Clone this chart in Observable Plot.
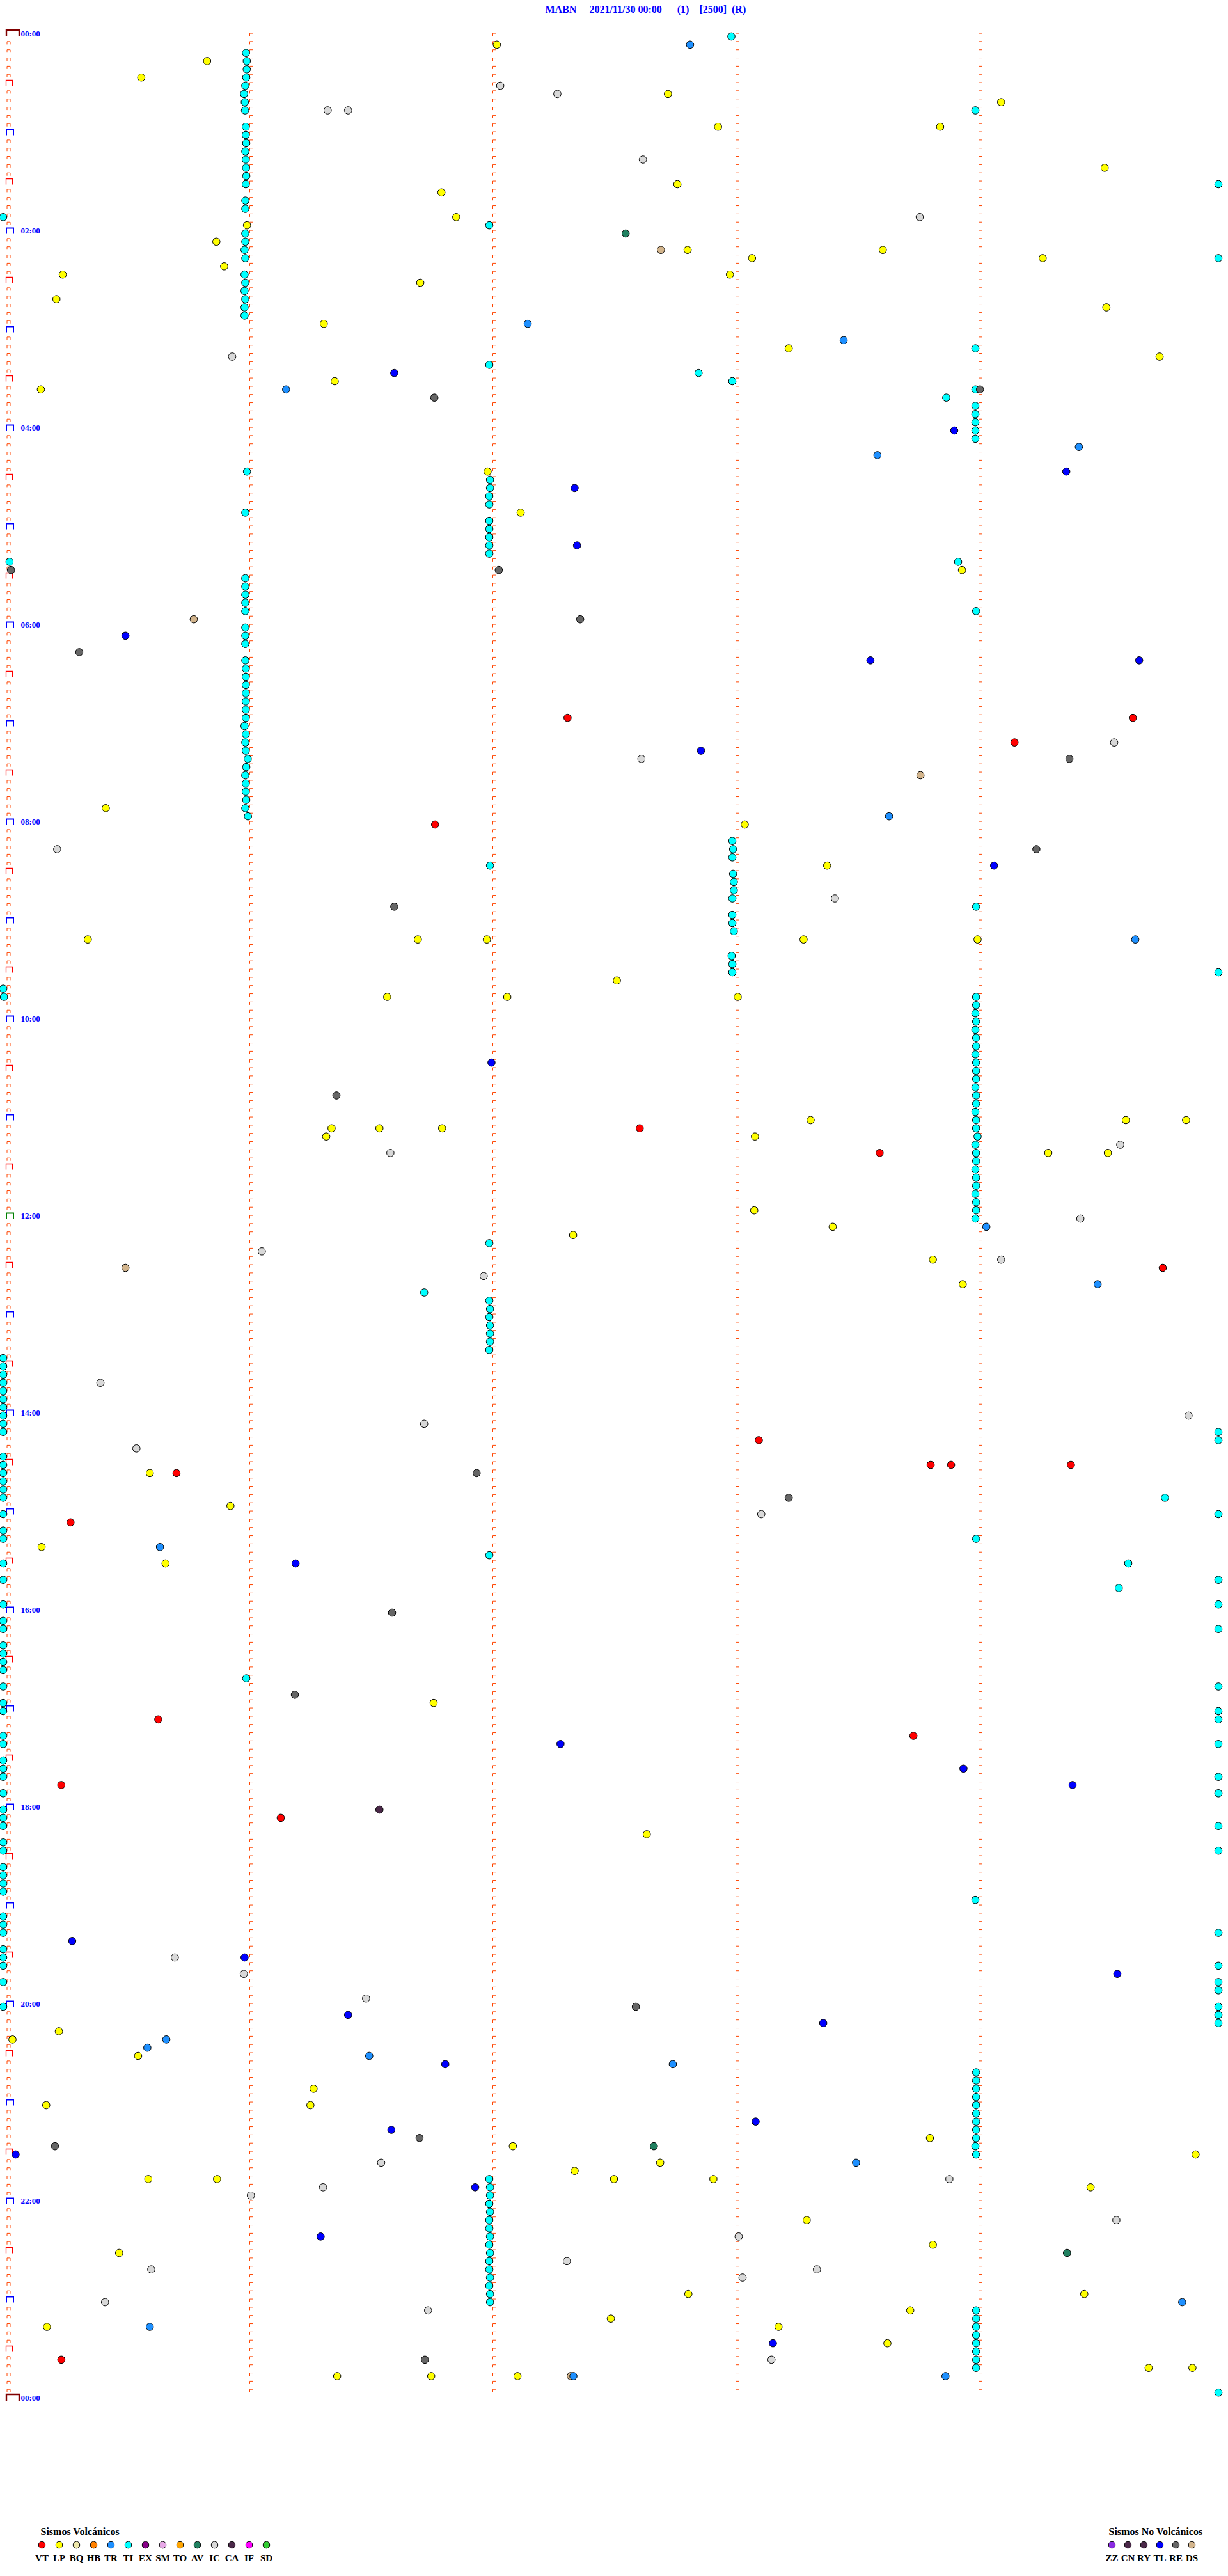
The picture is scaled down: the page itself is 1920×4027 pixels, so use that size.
<!DOCTYPE html>
<html><head><meta charset="utf-8">
<script src="https://cdn.jsdelivr.net/npm/d3@7"></script>
<script src="https://cdn.jsdelivr.net/npm/@observablehq/plot@0.6"></script>
<style>
body{margin:0;background:#fff;}
#wrap{position:relative;width:1920px;height:4027px;overflow:hidden;background:#fff;}
#chart{position:absolute;left:0;top:0}
#legL{position:absolute;left:0;top:3940px}
#legR{position:absolute;left:1600px;top:3940px}
svg{overflow:visible}
</style></head>
<body><div id="wrap"><div id="chart"></div><div id="legL"></div><div id="legR"></div></div>
<script>
// ---------- header / labels ----------
const TITLE = "MABN\u00A0\u00A0\u00A0\u00A0\u00A02021/11/30 00:00\u00A0\u00A0\u00A0\u00A0\u00A0\u00A0(1)\u00A0\u00A0\u00A0\u00A0[2500]\u00A0\u00A0(R)";
const HOUR_LABELS = ["00:00","02:00","04:00","06:00","08:00","10:00","12:00","14:00","16:00","18:00","20:00","22:00","00:00"];
const VOLC_TITLE = "Sismos Volcánicos";
const NOVOLC_TITLE = "Sismos No Volcánicos";
const VOLC_CODES = ["VT","LP","BQ","HB","TR","TI","EX","SM","TO","AV","IC","CA","IF","SD"];
const VOLC_COLORS = ["#FF0000","#FFFF00","#EEE8AA","#FF8000","#1E90FF","#00FFFF","#880088","#E6A8E6","#FFA500","#208060","#D8D8D8","#4A2848","#FF00FF","#32CD32"];
const NOVOLC_CODES = ["ZZ","CN","RY","TL","RE","DS"];
const NOVOLC_COLORS = ["#8A2BE2","#4A2848","#4A2848","#0000FF","#666666","#D2B48C"];

// ---------- events: [5-minute slot of the day, minute offset inside slot] ----------
const TI = [
[0,2.975],[2,0.978],[3,0.981],[4,0.981],[5,0.979],[6,0.975],[7,0.970],[8,0.973],[9,0.974],[9,3.979],
[11,0.977],[12,0.977],[13,0.979],[14,0.975],[15,0.977],[16,0.978],[17,0.979],[18,0.977],[18,4.979],
[20,0.975],[21,0.975],[22,-0.021],[23,1.979],[24,0.975],[25,0.975],[26,0.972],[27,0.975],[27,4.979],
[29,0.972],[30,0.975],[31,0.972],[32,0.975],[33,0.972],[34,0.972],
[38,3.979],[40,1.979],[41,2.84],[42,2.979],[43,3.979],[44,3.859],
[45,3.979],[46,3.979],[47,3.979],[48,3.979],[49,3.979],
[53,0.982],[54,1.982],[55,1.982],[56,1.979],[57,1.979],[58,0.975],
[59,1.979],[60,1.979],[61,1.979],[62,1.979],[63,1.979],[64,0.005],[64,3.908],
[66,0.975],[67,0.975],[68,0.975],[69,0.975],[70,0.975],[70,3.982],
[72,0.975],[73,0.975],[74,0.975],
[76,0.975],[77,0.977],[78,0.977],[79,0.977],[80,0.977],[81,0.977],[82,0.977],[83,0.977],[84,0.972],[85,0.977],
[86,0.975],[87,0.977],[88,0.985],[89,0.979],[90,0.975],[91,0.977],[92,0.977],[93,0.979],[94,0.975],[95,0.986],
[98,2.979],[99,2.982],[100,2.979],[101,1.982],[102,2.982],[103,2.985],[104,2.985],[105,2.979],[106,3.982],
[107,2.979],[108,2.979],[109,2.985],[112,2.976],[113,2.979],[114,2.979],[114,4.979],[116,-0.021],[117,-0.018],
[117,3.982],[118,3.982],[119,3.979],[120,3.982],[121,3.979],[122,3.982],[123,3.982],[124,3.979],[125,3.982],[126,3.982],
[127,3.982],[128,3.979],[129,3.982],[130,3.982],[131,3.979],[132,3.982],[133,3.982],[134,3.988],[135,3.979],[136,3.982],
[137,3.982],[138,3.979],[139,3.982],[140,3.982],[141,3.979],[142,3.982],[143,3.982],[144,3.979],
[147,1.979],[153,1.711],[154,1.979],[155,1.982],[156,1.979],[157,1.982],[158,1.982],[159,1.982],[160,1.979],
[161,-0.021],[162,-0.021],[163,-0.021],[164,-0.021],[165,-0.021],[166,-0.021],[167,-0.021],[168,-0.021],[169,-0.021],[170,-0.021],
[173,-0.021],[174,-0.021],[175,-0.021],[176,-0.021],[177,-0.021],[178,-0.021],[180,-0.021],[182,-0.021],[183,-0.021],
[186,-0.021],[188,-0.021],[191,-0.021],[193,-0.021],[194,-0.021],[196,-0.021],[197,-0.021],[198,-0.021],[199,-0.021],
[201,-0.021],[203,-0.021],[204,-0.021],[207,-0.021],[208,-0.021],[210,-0.021],[211,-0.021],[212,-0.021],[214,-0.021],
[170,4.979],[171,4.979],[180,4.979],[188,4.979],[191,4.979],[194,4.979],[201,4.979],[204,4.979],[205,4.979],[208,4.979],[212,4.979],[214,4.979],
[178,4.759],[183,3.982],[185,1.979],[186,4.608],[189,4.569],[200,0.979],
[216,-0.021],[217,-0.021],[218,-0.021],[220,-0.021],[221,-0.021],[223,-0.021],[224,-0.021],[225,-0.021],[226,-0.021],
[229,-0.021],[230,-0.021],[231,-0.021],[233,-0.021],[234,-0.021],[235,-0.021],[237,-0.021],[240,-0.021],
[218,4.979],[221,4.979],[231,4.979],[235,4.979],[237,4.979],[238,4.979],[240,4.979],[241,4.979],[242,4.979],[287,4.979],
[227,3.979],
[248,3.982],[249,3.982],[250,3.982],[251,3.982],[252,3.982],[253,3.982],[254,3.982],[255,3.982],[256,3.982],[257,3.979],[258,3.982],
[261,1.979],[262,1.982],[263,1.982],[264,1.979],[265,1.982],[266,1.979],[267,1.979],[268,1.982],[269,1.979],[270,1.982],
[271,1.979],[272,1.979],[273,1.982],[274,1.979],[275,1.982],[276,1.982],
[277,3.982],[278,3.982],[279,3.982],[280,3.982],[281,3.982],[282,3.982],[283,3.982],[284,3.982]
];
const LP = [
[1,2.01],[3,0.818],[5,0.547],[7,2.714],[8,4.085],[11,2.92],[11,3.834],[16,4.511],[18,2.753],[19,1.782],
[22,1.843],[23,0.982],[25,0.856],[26,2.795],[26,3.598],[27,3.06],[27,4.256],[28,0.888],[29,0.224],[29,2.969],
[30,1.695],[32,0.198],[33,4.518],[35,1.298],[38,3.211],[39,4.737],[42,1.343],[43,0.134],[53,1.972],[58,2.108],[65,3.924],
[94,0.401],[96,3.03],[101,3.369],[110,0.327],[110,1.685],[110,1.969],[110,3.272],[110,3.988],[115,2.504],
[117,1.559],[117,2.053],[117,3.001],[132,3.301],[132,4.598],[132,4.846],[133,1.33],[133,1.527],[133,1.785],
[134,1.308],[134,3.072],[136,4.279],[136,4.524],[143,3.069],
[145,3.392],[146,2.324],[149,3.804],[152,3.927],[175,0.582],[179,0.914],[184,0.137],[186,0.647],[203,1.75],
[219,2.627],[243,0.208],[244,0.017],[246,0.534],[250,1.256],[252,0.156],[252,1.243],[256,3.792],[257,2.076],
[258,4.885],[259,2.682],[260,2.33],[261,0.576],[261,0.859],[261,2.492],[261,2.901],[262,4.453],[266,3.285],
[269,3.804],[270,0.456],[275,2.798],[275,4.427],[277,3.711],[278,2.479],[279,0.159],[279,3.169],[281,3.617],
[284,4.692],[284,4.872],[285,1.353],[285,1.74],[285,2.095]
];
const IC = [
[6,2.024],[7,2.259],[9,1.314],[9,1.398],[15,2.611],[22,3.75],[39,0.921],[86,4.55],[88,2.605],[99,0.201],
[105,3.401],[135,4.575],[136,1.572],[144,4.411],[148,1.043],[149,4.085],[151,1.956],[164,0.379],[168,4.856],
[169,1.711],[172,0.527],[180,3.098],[234,0.685],[236,0.969],[239,1.472],[259,1.534],[261,3.872],[262,1.295],
[263,0.998],[266,4.559],[268,3.005],[271,2.298],[272,0.588],[272,3.327],[273,3.021],[276,0.398],[277,1.727],[283,3.14]
];
const TR = [
[1,2.805],[35,2.137],[37,3.437],[43,1.143],[50,4.405],[51,3.576],[95,3.624],[110,4.637],[145,4.024],[152,4.482],
[184,0.624],[244,0.65],[245,0.572],[246,1.485],[247,2.734],[259,3.488],[276,4.83],[279,0.582],[285,3.856]
];
const TL = [
[41,1.588],[48,3.892],[53,4.353],[55,2.33],[62,2.34],[73,0.482],[76,3.547],[76,4.653],[87,2.85],[101,4.056],
[125,1.988],[186,1.182],[208,2.272],[211,3.93],[213,4.379],[232,0.263],[234,0.972],[236,4.563],[241,1.398],
[242,3.353],[247,1.798],[254,3.075],[255,1.576],[258,0.03],[262,1.921],[268,1.285],[281,3.146]
];
const RE = [
[43,3.998],[44,1.753],[65,0.011],[65,2.018],[71,2.353],[75,0.292],[88,4.366],[99,4.23],[106,1.588],[129,1.35],
[175,1.927],[178,3.211],[192,1.579],[202,1.179],[240,2.582],[256,1.692],[257,0.192],[283,1.714]
];
const VT = [
[83,2.301],[83,4.627],[86,4.14],[96,1.756],[133,2.598],[136,3.585],[150,4.75],[171,3.088],[174,3.795],[174,3.879],
[174,4.372],[175,0.692],[181,0.256],[205,0.617],[207,3.724],[213,0.218],[217,1.121],[283,0.218]
];
const DS = [[26,2.685],[71,0.763],[90,3.753],[150,0.482],[285,2.314]];
const TR_LATE = [[285,2.325]];
const AV = [[24,2.54],[257,2.656],[270,4.356]];
const CA = [[216,1.527]];

const SERIES = [["TI",TI],["LP",LP],["IC",IC],["DS",DS],["TR",TR],["TR",TR_LATE],["TL",TL],["RE",RE],["VT",VT],["AV",AV],["CA",CA]];
const events = SERIES.flatMap(([type, arr]) => arr.map(([s, m]) => ({type, s, m})));

const ALL_CODES = VOLC_CODES.concat(NOVOLC_CODES);
const ALL_COLORS = VOLC_COLORS.concat(NOVOLC_COLORS);

// ---------- tick glyphs (open-bottom bracket) ----------
function cap(w, h) {
  return {draw(ctx) { ctx.moveTo(-w/2, h/2); ctx.lineTo(-w/2, -h/2); ctx.lineTo(w/2, -h/2); ctx.lineTo(w/2, h/2); }};
}
const SLOTS = d3.range(0, 288);
const colTicks = d3.cross(SLOTS, [1, 2, 3, 4]).map(([s, c]) => ({s, c}));
const col0 = d3.range(0, 289).map(s => ({s, kind: (s % 288 === 0) ? "day" : (s === 144 ? "noon" : (s % 12 === 0 ? "hour" : (s % 6 === 0 ? "half" : "small")))}));
const Y = d => d.s * 5;

const common = {fontFamily: "'Liberation Serif', 'Times New Roman', serif", fontWeight: "bold"};

const chart = Plot.plot({
  width: 1920, height: 3800,
  marginTop: 0, marginLeft: 0, marginRight: 0, marginBottom: 0,
  x: {type: "linear", domain: [0, 5], range: [12.5, 1912.5], axis: null},
  y: {type: "linear", domain: [0, 1440], range: [52, 3748], axis: null},
  color: {domain: ALL_CODES, range: ALL_COLORS},
  style: {background: "white", overflow: "visible"},
  marks: [
    Plot.text([TITLE], {frameAnchor: "top-left", dx: 852, dy: 19, lineAnchor: "bottom", textAnchor: "start", fill: "#0000FF", fontSize: 16, ...common}),
    Plot.dot(colTicks, {x: "c", y: Y, dy: 1.8, r: 1, symbol: cap(5, 4.5), fill: "none", stroke: "#FF4500", strokeWidth: 1}),
    Plot.dot(col0.filter(d => d.kind === "small"), {x: 0, y: Y, dx: 0.5, dy: 1.8, r: 1, symbol: cap(5, 4.5), fill: "none", stroke: "#FF4500", strokeWidth: 1}),
    Plot.dot(col0.filter(d => d.kind === "half"), {x: 0, y: Y, dx: 1.5, dy: 0.5, r: 1, symbol: cap(10, 9), fill: "none", stroke: "#FF0000", strokeWidth: 1.3}),
    Plot.dot(col0.filter(d => d.kind === "hour"), {x: 0, y: Y, dx: 2.5, dy: 0.5, r: 1, symbol: cap(11, 9), fill: "none", stroke: "#0000FF", strokeWidth: 2}),
    Plot.dot(col0.filter(d => d.kind === "noon"), {x: 0, y: Y, dx: 2.5, dy: 0.5, r: 1, symbol: cap(11, 9), fill: "none", stroke: "#008000", strokeWidth: 2}),
    Plot.dot(col0.filter(d => d.kind === "day"), {x: 0, y: Y, dx: 7, dy: -0.5, r: 1, symbol: cap(20, 10), fill: "none", stroke: "#800000", strokeWidth: 2.4}),
    Plot.text(HOUR_LABELS, {x: 0, y: (d, i) => i * 120, dx: 19.5, textAnchor: "start", fill: "#0000FF", fontSize: 13, ...common}),
    Plot.dot(events, {x: "m", y: Y, dy: 4.5, r: 5.8, fill: "type", stroke: "black", strokeWidth: 1})
  ]
});
document.getElementById("chart").append(chart);

function legend(title, codes, colors, width, range, titleX) {
  return Plot.plot({
    width, height: 80, marginTop: 0, marginLeft: 0, marginRight: 0, marginBottom: 0,
    x: {type: "point", domain: codes, range, axis: null},
    color: {domain: codes, range: colors},
    style: {background: "white", overflow: "visible"},
    marks: [
      Plot.text([title], {frameAnchor: "top-left", dx: titleX, dy: 22, lineAnchor: "bottom", textAnchor: "start", fill: "black", fontSize: 16, ...common}),
      Plot.dot(codes, {x: d => d, frameAnchor: "top", dy: 38, r: 5.3, fill: d => d, stroke: "black", strokeWidth: 1}),
      Plot.text(codes, {x: d => d, frameAnchor: "top", dy: 63, lineAnchor: "bottom", fill: "black", fontSize: 15, ...common})
    ]
  });
}
document.getElementById("legL").append(legend(VOLC_TITLE, VOLC_CODES, VOLC_COLORS, 600, [45, 435], 63));
document.getElementById("legR").append(legend(NOVOLC_TITLE, NOVOLC_CODES, NOVOLC_COLORS, 320, [125, 275], 133));
</script>
</body></html>
